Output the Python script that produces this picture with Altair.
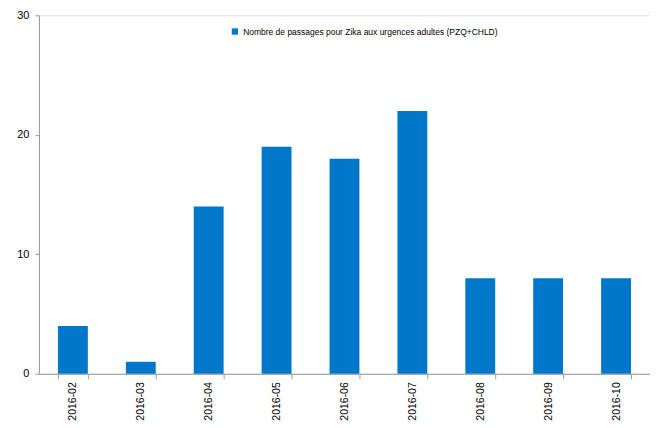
import altair as alt
import pandas as pd

months = ["2016-02", "2016-03", "2016-04", "2016-05", "2016-06", "2016-07", "2016-08", "2016-09", "2016-10"]
counts = [4, 1, 14, 19, 18, 22, 8, 8, 8]
series_name = "Nombre de passages pour Zika aux urgences adultes (PZQ+CHLD)"

df = pd.DataFrame({"mois": months, "n": counts, "serie": [series_name] * len(months)})

chart = alt.Chart(df).mark_bar(color="#0077C8").encode(
    x=alt.X("mois:N", title=None, sort=months,
            scale=alt.Scale(paddingInner=0.56, paddingOuter=0.28),
            axis=alt.Axis(labelAngle=-90, tickBand="extent", domainColor="#999999",
                          tickColor="#999999", tickSize=5, labelFont="Liberation Sans",
                          labelFontSize=10.5, labelColor="#000000", labelPadding=3)),
    y=alt.Y("n:Q", title=None, scale=alt.Scale(domain=[0, 30], nice=False),
            axis=alt.Axis(values=[0, 10, 20, 30], grid=False, domainColor="#999999",
                          tickColor="#999999", tickSize=4, labelFont="Liberation Sans",
                          labelFontSize=11, labelColor="#000000", labelPadding=6)),
    fill=alt.Fill("serie:N", scale=alt.Scale(range=["#0077C8"]),
                  legend=alt.Legend(title=None, orient="none", legendX=192, legendY=12,
                                    symbolType="square", symbolSize=40,
                                    labelFont="Liberation Sans", labelFontSize=8.5,
                                    labelColor="#000000", labelLimit=400)),
).properties(
    width=612, height=359, padding={"left": 8, "top": 1, "right": 0, "bottom": 0}
).configure_view(stroke=None).configure(background="white")

chart.save("out.html", embed_options={"renderer": "svg", "actions": False})
